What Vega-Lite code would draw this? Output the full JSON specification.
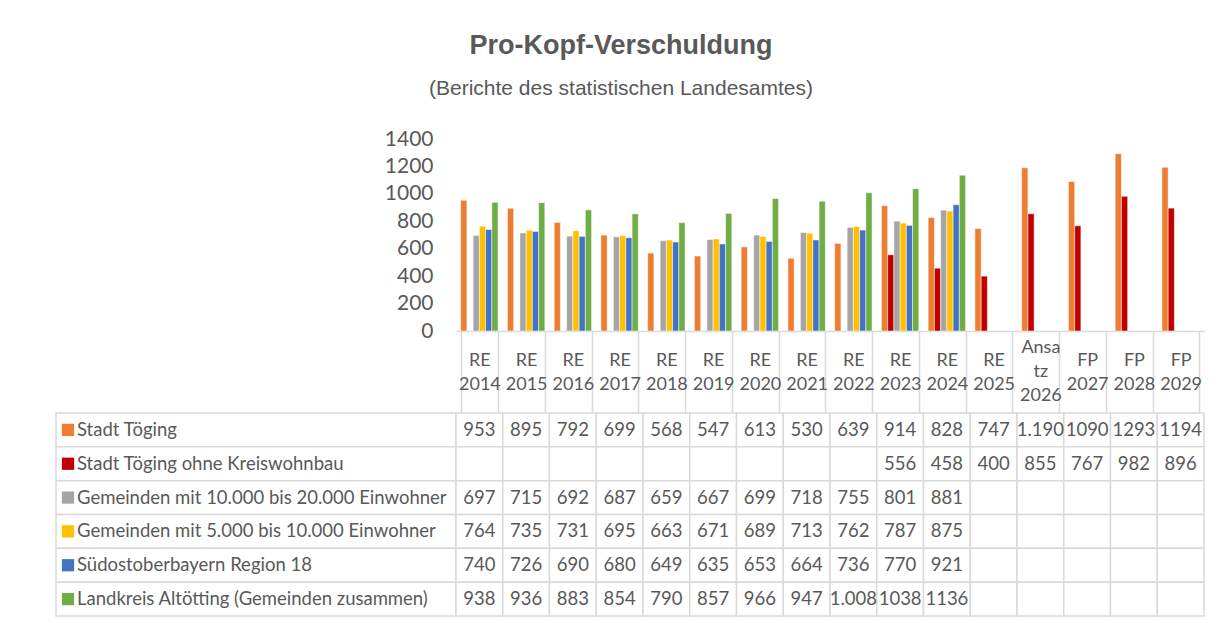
{
  "$schema": "https://vega.github.io/schema/vega-lite/v6.json",
  "background": "white",
  "padding": {"left": 55, "top": 32, "right": 20, "bottom": 4},
  "title": {
    "text": "Pro-Kopf-Verschuldung",
    "subtitle": "(Berichte des statistischen Landesamtes)",
    "anchor": "middle",
    "dx": -9,
    "offset": 28,
    "font": "Liberation Sans",
    "fontSize": 27,
    "fontWeight": "bold",
    "color": "#595959",
    "subtitleFont": "Liberation Sans",
    "subtitleFontSize": 21,
    "subtitleColor": "#595959",
    "subtitlePadding": 18
  },
  "config": {"view": {"stroke": null}, "font": "Lato"},
  "columns": 2,
  "spacing": {"row": 82, "column": 0},
  "bounds": "flush",
  "datasets": {
    "d": [
      {"cat": "RE 2014", "series": "Stadt Töging", "value": 953, "label": "953"},
      {"cat": "RE 2015", "series": "Stadt Töging", "value": 895, "label": "895"},
      {"cat": "RE 2016", "series": "Stadt Töging", "value": 792, "label": "792"},
      {"cat": "RE 2017", "series": "Stadt Töging", "value": 699, "label": "699"},
      {"cat": "RE 2018", "series": "Stadt Töging", "value": 568, "label": "568"},
      {"cat": "RE 2019", "series": "Stadt Töging", "value": 547, "label": "547"},
      {"cat": "RE 2020", "series": "Stadt Töging", "value": 613, "label": "613"},
      {"cat": "RE 2021", "series": "Stadt Töging", "value": 530, "label": "530"},
      {"cat": "RE 2022", "series": "Stadt Töging", "value": 639, "label": "639"},
      {"cat": "RE 2023", "series": "Stadt Töging", "value": 914, "label": "914"},
      {"cat": "RE 2024", "series": "Stadt Töging", "value": 828, "label": "828"},
      {"cat": "RE 2025", "series": "Stadt Töging", "value": 747, "label": "747"},
      {"cat": "Ansatz 2026", "series": "Stadt Töging", "value": 1190, "label": "1.190"},
      {"cat": "FP 2027", "series": "Stadt Töging", "value": 1090, "label": "1090"},
      {"cat": "FP 2028", "series": "Stadt Töging", "value": 1293, "label": "1293"},
      {"cat": "FP 2029", "series": "Stadt Töging", "value": 1194, "label": "1194"},

      {"cat": "RE 2014", "series": "Stadt Töging ohne Kreiswohnbau", "value": null, "label": ""},
      {"cat": "RE 2015", "series": "Stadt Töging ohne Kreiswohnbau", "value": null, "label": ""},
      {"cat": "RE 2016", "series": "Stadt Töging ohne Kreiswohnbau", "value": null, "label": ""},
      {"cat": "RE 2017", "series": "Stadt Töging ohne Kreiswohnbau", "value": null, "label": ""},
      {"cat": "RE 2018", "series": "Stadt Töging ohne Kreiswohnbau", "value": null, "label": ""},
      {"cat": "RE 2019", "series": "Stadt Töging ohne Kreiswohnbau", "value": null, "label": ""},
      {"cat": "RE 2020", "series": "Stadt Töging ohne Kreiswohnbau", "value": null, "label": ""},
      {"cat": "RE 2021", "series": "Stadt Töging ohne Kreiswohnbau", "value": null, "label": ""},
      {"cat": "RE 2022", "series": "Stadt Töging ohne Kreiswohnbau", "value": null, "label": ""},
      {"cat": "RE 2023", "series": "Stadt Töging ohne Kreiswohnbau", "value": 556, "label": "556"},
      {"cat": "RE 2024", "series": "Stadt Töging ohne Kreiswohnbau", "value": 458, "label": "458"},
      {"cat": "RE 2025", "series": "Stadt Töging ohne Kreiswohnbau", "value": 400, "label": "400"},
      {"cat": "Ansatz 2026", "series": "Stadt Töging ohne Kreiswohnbau", "value": 855, "label": "855"},
      {"cat": "FP 2027", "series": "Stadt Töging ohne Kreiswohnbau", "value": 767, "label": "767"},
      {"cat": "FP 2028", "series": "Stadt Töging ohne Kreiswohnbau", "value": 982, "label": "982"},
      {"cat": "FP 2029", "series": "Stadt Töging ohne Kreiswohnbau", "value": 896, "label": "896"},

      {"cat": "RE 2014", "series": "Gemeinden mit 10.000 bis 20.000 Einwohner", "value": 697, "label": "697"},
      {"cat": "RE 2015", "series": "Gemeinden mit 10.000 bis 20.000 Einwohner", "value": 715, "label": "715"},
      {"cat": "RE 2016", "series": "Gemeinden mit 10.000 bis 20.000 Einwohner", "value": 692, "label": "692"},
      {"cat": "RE 2017", "series": "Gemeinden mit 10.000 bis 20.000 Einwohner", "value": 687, "label": "687"},
      {"cat": "RE 2018", "series": "Gemeinden mit 10.000 bis 20.000 Einwohner", "value": 659, "label": "659"},
      {"cat": "RE 2019", "series": "Gemeinden mit 10.000 bis 20.000 Einwohner", "value": 667, "label": "667"},
      {"cat": "RE 2020", "series": "Gemeinden mit 10.000 bis 20.000 Einwohner", "value": 699, "label": "699"},
      {"cat": "RE 2021", "series": "Gemeinden mit 10.000 bis 20.000 Einwohner", "value": 718, "label": "718"},
      {"cat": "RE 2022", "series": "Gemeinden mit 10.000 bis 20.000 Einwohner", "value": 755, "label": "755"},
      {"cat": "RE 2023", "series": "Gemeinden mit 10.000 bis 20.000 Einwohner", "value": 801, "label": "801"},
      {"cat": "RE 2024", "series": "Gemeinden mit 10.000 bis 20.000 Einwohner", "value": 881, "label": "881"},
      {"cat": "RE 2025", "series": "Gemeinden mit 10.000 bis 20.000 Einwohner", "value": null, "label": ""},
      {"cat": "Ansatz 2026", "series": "Gemeinden mit 10.000 bis 20.000 Einwohner", "value": null, "label": ""},
      {"cat": "FP 2027", "series": "Gemeinden mit 10.000 bis 20.000 Einwohner", "value": null, "label": ""},
      {"cat": "FP 2028", "series": "Gemeinden mit 10.000 bis 20.000 Einwohner", "value": null, "label": ""},
      {"cat": "FP 2029", "series": "Gemeinden mit 10.000 bis 20.000 Einwohner", "value": null, "label": ""},

      {"cat": "RE 2014", "series": "Gemeinden mit 5.000 bis 10.000 Einwohner", "value": 764, "label": "764"},
      {"cat": "RE 2015", "series": "Gemeinden mit 5.000 bis 10.000 Einwohner", "value": 735, "label": "735"},
      {"cat": "RE 2016", "series": "Gemeinden mit 5.000 bis 10.000 Einwohner", "value": 731, "label": "731"},
      {"cat": "RE 2017", "series": "Gemeinden mit 5.000 bis 10.000 Einwohner", "value": 695, "label": "695"},
      {"cat": "RE 2018", "series": "Gemeinden mit 5.000 bis 10.000 Einwohner", "value": 663, "label": "663"},
      {"cat": "RE 2019", "series": "Gemeinden mit 5.000 bis 10.000 Einwohner", "value": 671, "label": "671"},
      {"cat": "RE 2020", "series": "Gemeinden mit 5.000 bis 10.000 Einwohner", "value": 689, "label": "689"},
      {"cat": "RE 2021", "series": "Gemeinden mit 5.000 bis 10.000 Einwohner", "value": 713, "label": "713"},
      {"cat": "RE 2022", "series": "Gemeinden mit 5.000 bis 10.000 Einwohner", "value": 762, "label": "762"},
      {"cat": "RE 2023", "series": "Gemeinden mit 5.000 bis 10.000 Einwohner", "value": 787, "label": "787"},
      {"cat": "RE 2024", "series": "Gemeinden mit 5.000 bis 10.000 Einwohner", "value": 875, "label": "875"},
      {"cat": "RE 2025", "series": "Gemeinden mit 5.000 bis 10.000 Einwohner", "value": null, "label": ""},
      {"cat": "Ansatz 2026", "series": "Gemeinden mit 5.000 bis 10.000 Einwohner", "value": null, "label": ""},
      {"cat": "FP 2027", "series": "Gemeinden mit 5.000 bis 10.000 Einwohner", "value": null, "label": ""},
      {"cat": "FP 2028", "series": "Gemeinden mit 5.000 bis 10.000 Einwohner", "value": null, "label": ""},
      {"cat": "FP 2029", "series": "Gemeinden mit 5.000 bis 10.000 Einwohner", "value": null, "label": ""},

      {"cat": "RE 2014", "series": "Südostoberbayern Region 18", "value": 740, "label": "740"},
      {"cat": "RE 2015", "series": "Südostoberbayern Region 18", "value": 726, "label": "726"},
      {"cat": "RE 2016", "series": "Südostoberbayern Region 18", "value": 690, "label": "690"},
      {"cat": "RE 2017", "series": "Südostoberbayern Region 18", "value": 680, "label": "680"},
      {"cat": "RE 2018", "series": "Südostoberbayern Region 18", "value": 649, "label": "649"},
      {"cat": "RE 2019", "series": "Südostoberbayern Region 18", "value": 635, "label": "635"},
      {"cat": "RE 2020", "series": "Südostoberbayern Region 18", "value": 653, "label": "653"},
      {"cat": "RE 2021", "series": "Südostoberbayern Region 18", "value": 664, "label": "664"},
      {"cat": "RE 2022", "series": "Südostoberbayern Region 18", "value": 736, "label": "736"},
      {"cat": "RE 2023", "series": "Südostoberbayern Region 18", "value": 770, "label": "770"},
      {"cat": "RE 2024", "series": "Südostoberbayern Region 18", "value": 921, "label": "921"},
      {"cat": "RE 2025", "series": "Südostoberbayern Region 18", "value": null, "label": ""},
      {"cat": "Ansatz 2026", "series": "Südostoberbayern Region 18", "value": null, "label": ""},
      {"cat": "FP 2027", "series": "Südostoberbayern Region 18", "value": null, "label": ""},
      {"cat": "FP 2028", "series": "Südostoberbayern Region 18", "value": null, "label": ""},
      {"cat": "FP 2029", "series": "Südostoberbayern Region 18", "value": null, "label": ""},

      {"cat": "RE 2014", "series": "Landkreis Altötting (Gemeinden zusammen)", "value": 938, "label": "938"},
      {"cat": "RE 2015", "series": "Landkreis Altötting (Gemeinden zusammen)", "value": 936, "label": "936"},
      {"cat": "RE 2016", "series": "Landkreis Altötting (Gemeinden zusammen)", "value": 883, "label": "883"},
      {"cat": "RE 2017", "series": "Landkreis Altötting (Gemeinden zusammen)", "value": 854, "label": "854"},
      {"cat": "RE 2018", "series": "Landkreis Altötting (Gemeinden zusammen)", "value": 790, "label": "790"},
      {"cat": "RE 2019", "series": "Landkreis Altötting (Gemeinden zusammen)", "value": 857, "label": "857"},
      {"cat": "RE 2020", "series": "Landkreis Altötting (Gemeinden zusammen)", "value": 966, "label": "966"},
      {"cat": "RE 2021", "series": "Landkreis Altötting (Gemeinden zusammen)", "value": 947, "label": "947"},
      {"cat": "RE 2022", "series": "Landkreis Altötting (Gemeinden zusammen)", "value": 1008, "label": "1.008"},
      {"cat": "RE 2023", "series": "Landkreis Altötting (Gemeinden zusammen)", "value": 1038, "label": "1038"},
      {"cat": "RE 2024", "series": "Landkreis Altötting (Gemeinden zusammen)", "value": 1136, "label": "1136"},
      {"cat": "RE 2025", "series": "Landkreis Altötting (Gemeinden zusammen)", "value": null, "label": ""},
      {"cat": "Ansatz 2026", "series": "Landkreis Altötting (Gemeinden zusammen)", "value": null, "label": ""},
      {"cat": "FP 2027", "series": "Landkreis Altötting (Gemeinden zusammen)", "value": null, "label": ""},
      {"cat": "FP 2028", "series": "Landkreis Altötting (Gemeinden zusammen)", "value": null, "label": ""},
      {"cat": "FP 2029", "series": "Landkreis Altötting (Gemeinden zusammen)", "value": null, "label": ""}
    ]
  },
  "concat": [
    {
      "width": 400,
      "height": 192,
      "data": {"values": [{}]},
      "mark": {"type": "text", "text": ""},
      "encoding": {}
    },
    {
      "width": 748,
      "height": 192,
      "data": {"name": "d"},
      "transform": [{"filter": "datum.value != null"}],
      "mark": {"type": "bar", "stroke": "white", "strokeWidth": 0.7, "strokeOpacity": 0.7},
      "encoding": {
        "x": {
          "field": "cat",
          "type": "nominal",
          "scale": {
            "domain": ["RE 2014", "RE 2015", "RE 2016", "RE 2017", "RE 2018", "RE 2019", "RE 2020", "RE 2021", "RE 2022", "RE 2023", "RE 2024", "RE 2025", "Ansatz 2026", "FP 2027", "FP 2028", "FP 2029"],
            "paddingInner": 0.2,
            "paddingOuter": 0.1
          },
          "axis": {
            "title": null,
            "labelExpr": "datum.label == 'Ansatz 2026' ? ['Ansa', 'tz', '2026'] : split(datum.label, ' ')",
            "labelAngle": 0,
            "labelFont": "Lato",
            "labelFontSize": 18,
            "labelColor": "#595959",
            "labelLineHeight": 24,
            "labelBaseline": "middle",
            "labelPadding": {"condition": {"test": "datum.value == 'Ansatz 2026'", "value": -66}, "value": -53},
            "labelOverlap": false,
            "ticks": true,
            "tickBand": "extent",
            "tickSize": 82,
            "tickColor": "#d9d9d9",
            "tickWidth": 1.5,
            "domainColor": "#d9d9d9",
            "domainWidth": 1.5
          }
        },
        "xOffset": {
          "field": "series",
          "type": "nominal",
          "scale": {
            "domain": ["Stadt Töging", "Stadt Töging ohne Kreiswohnbau", "Gemeinden mit 10.000 bis 20.000 Einwohner", "Gemeinden mit 5.000 bis 10.000 Einwohner", "Südostoberbayern Region 18", "Landkreis Altötting (Gemeinden zusammen)"],
            "paddingInner": 0,
            "paddingOuter": 0
          }
        },
        "y": {
          "field": "value",
          "type": "quantitative",
          "scale": {"domain": [0, 1400], "nice": false},
          "axis": {
            "title": null,
            "values": [0, 200, 400, 600, 800, 1000, 1200, 1400],
            "format": "d",
            "grid": false,
            "domain": false,
            "ticks": false,
            "labelFlush": false,
            "labelFont": "Lato",
            "labelFontSize": 21,
            "labelColor": "#595959",
            "labelPadding": 23
          }
        },
        "color": {
          "field": "series",
          "type": "nominal",
          "scale": {
            "domain": ["Stadt Töging", "Stadt Töging ohne Kreiswohnbau", "Gemeinden mit 10.000 bis 20.000 Einwohner", "Gemeinden mit 5.000 bis 10.000 Einwohner", "Südostoberbayern Region 18", "Landkreis Altötting (Gemeinden zusammen)"],
            "range": ["#ED7D31", "#C00000", "#A5A5A5", "#FFC000", "#4472C4", "#70AD47"]
          },
          "legend": null
        }
      }
    },
    {
      "width": 400,
      "height": 203,
      "data": {"name": "d"},
      "transform": [{"filter": "datum.cat == 'RE 2014'"}],
      "encoding": {
        "y": {
          "field": "series",
          "type": "nominal",
          "scale": {
            "domain": ["Stadt Töging", "Stadt Töging ohne Kreiswohnbau", "Gemeinden mit 10.000 bis 20.000 Einwohner", "Gemeinden mit 5.000 bis 10.000 Einwohner", "Südostoberbayern Region 18", "Landkreis Altötting (Gemeinden zusammen)"],
            "paddingInner": 0,
            "paddingOuter": 0
          },
          "axis": null
        }
      },
      "layer": [
        {"mark": {"type": "rect", "fill": "white", "stroke": "#d9d9d9", "strokeWidth": 1.5}},
        {
          "mark": {"type": "point", "shape": "square", "filled": true, "size": 150, "opacity": 1, "xOffset": -188},
          "encoding": {
            "color": {
              "field": "series",
              "type": "nominal",
              "scale": {
                "domain": ["Stadt Töging", "Stadt Töging ohne Kreiswohnbau", "Gemeinden mit 10.000 bis 20.000 Einwohner", "Gemeinden mit 5.000 bis 10.000 Einwohner", "Südostoberbayern Region 18", "Landkreis Altötting (Gemeinden zusammen)"],
                "range": ["#ED7D31", "#C00000", "#A5A5A5", "#FFC000", "#4472C4", "#70AD47"]
              },
              "legend": null
            }
          }
        },
        {
          "mark": {"type": "text", "align": "left", "baseline": "middle", "dx": -179, "font": "Lato", "fontSize": 18.5, "color": "#595959"},
          "encoding": {"text": {"field": "series"}}
        }
      ]
    },
    {
      "width": 748,
      "height": 203,
      "data": {"name": "d"},
      "encoding": {
        "x": {
          "field": "cat",
          "type": "nominal",
          "scale": {
            "domain": ["RE 2014", "RE 2015", "RE 2016", "RE 2017", "RE 2018", "RE 2019", "RE 2020", "RE 2021", "RE 2022", "RE 2023", "RE 2024", "RE 2025", "Ansatz 2026", "FP 2027", "FP 2028", "FP 2029"],
            "paddingInner": 0,
            "paddingOuter": 0
          },
          "axis": null
        },
        "y": {
          "field": "series",
          "type": "nominal",
          "scale": {
            "domain": ["Stadt Töging", "Stadt Töging ohne Kreiswohnbau", "Gemeinden mit 10.000 bis 20.000 Einwohner", "Gemeinden mit 5.000 bis 10.000 Einwohner", "Südostoberbayern Region 18", "Landkreis Altötting (Gemeinden zusammen)"],
            "paddingInner": 0,
            "paddingOuter": 0
          },
          "axis": null
        }
      },
      "layer": [
        {"mark": {"type": "rect", "fill": "white", "stroke": "#d9d9d9", "strokeWidth": 1.5}},
        {
          "mark": {"type": "text", "baseline": "middle", "font": "Lato", "fontSize": 18.5, "color": "#595959"},
          "encoding": {"text": {"field": "label"}}
        }
      ]
    }
  ]
}
